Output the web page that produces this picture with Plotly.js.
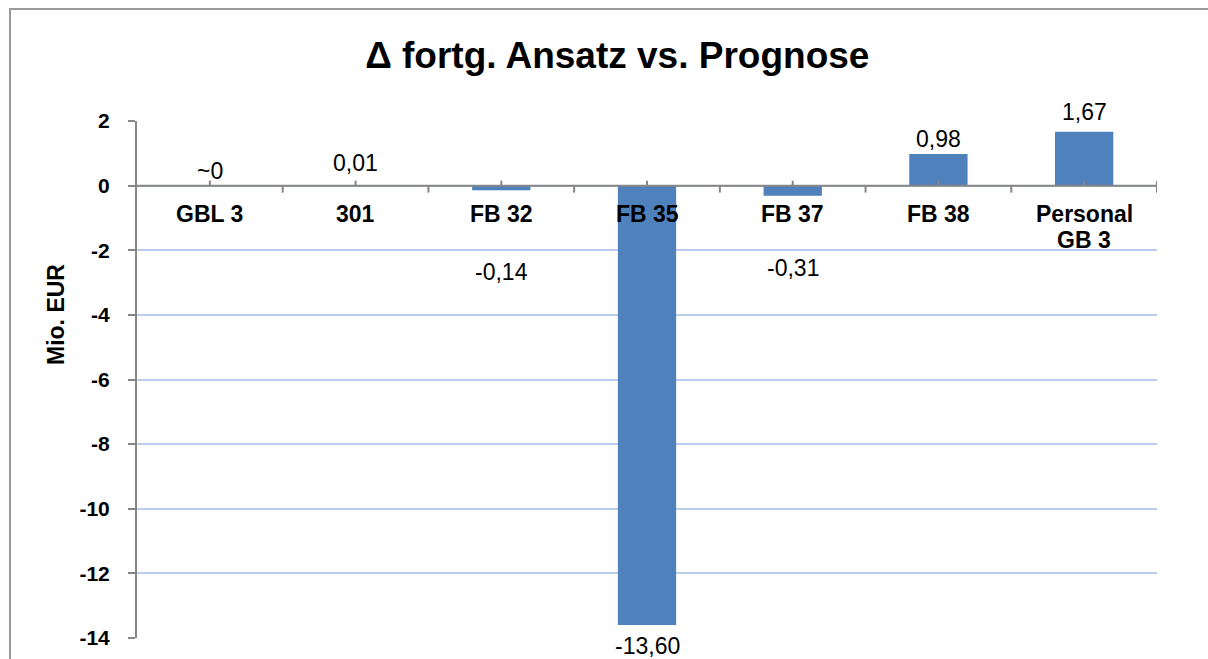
<!DOCTYPE html>
<html>
<head>
<meta charset="utf-8">
<script src="https://cdn.plot.ly/plotly-3.0.1.min.js"></script>
<style>
  html, body { margin: 0; padding: 0; background: #ffffff; }
  #chart { width: 1208px; height: 659px; }
</style>
</head>
<body>
<div id="chart"></div>
<script>
// ---- data ----
const categories = ['GBL 3', '301', 'FB 32', 'FB 35', 'FB 37', 'FB 38', 'Personal<br>GB 3'];
const values = [0, 0.01, -0.14, -13.60, -0.31, 0.98, 1.67];
const valueLabels = ['~0', '0,01', '-0,14', '-13,60', '-0,31', '0,98', '1,67'];
const yTickValues = [2, 0, -2, -4, -6, -8, -10, -12, -14];
const yTickLabels = ['2', '0', '-2', '-4', '-6', '-8', '-10', '-12', '-14'];
const yAxisTitle = 'Mio. EUR';
const chartTitle = '\u0394 fortg. Ansatz vs. Prognose';

// ---- styling ----
const FONT = 'Liberation Sans, Arial, sans-serif';
const barColor = '#4f81bd';
const axisGray = '#868686';
const gridBlue = '#b9cdef';
// vertical offsets (px) of the value labels relative to the bar ends
const labelOffsetPx = [15, 22, -82, -21, -72, 15, 20];

const idx = categories.map((_, i) => i);

const trace = {
  type: 'bar',
  x: idx,
  y: values,
  width: 0.4,
  marker: { color: barColor, line: { width: 0 } },
  hoverinfo: 'skip'
};

const annotations = [];
categories.forEach((c, i) => {
  c.split('<br>').forEach((line, k) => {
    annotations.push({
      x: i, y: 0, xref: 'x', yref: 'y',
      text: '<b>' + line + '</b>',
      showarrow: false,
      xanchor: 'center', yanchor: 'top',
      yshift: -13 - 26 * k,
      font: { family: FONT, size: 23, color: '#000' }
    });
  });
  annotations.push({
    x: i, y: values[i], xref: 'x', yref: 'y',
    text: valueLabels[i],
    showarrow: false,
    xanchor: 'center', yanchor: 'middle',
    yshift: labelOffsetPx[i],
    font: { family: FONT, size: 23, color: '#000' }
  });
});
// y-axis title (placed like in the reference, above the vertical centre)
annotations.push({
  xref: 'paper', yref: 'paper',
  x: -0.0794, y: 0.6248,
  xanchor: 'center', yanchor: 'middle',
  textangle: -90,
  text: '<b>' + yAxisTitle + '</b>',
  showarrow: false,
  font: { family: FONT, size: 23, color: '#000' }
});

const shapes = [];
// zero axis line
shapes.push({
  type: 'line', xref: 'x', yref: 'y',
  x0: -0.5, x1: categories.length - 0.5, y0: 0, y1: 0,
  line: { color: axisGray, width: 2 }, layer: 'above'
});
// boundary ticks (down) and centre ticks (up)
for (let i = 0; i < categories.length; i++) {
  const b = i + 0.5;
  const last = i === categories.length - 1;
  shapes.push({
    type: 'line', xref: 'x', yref: 'y',
    ysizemode: 'pixel', yanchor: 0,
    x0: b, x1: b, y0: last ? 5 : 0, y1: -7,
    line: { color: axisGray, width: 2 }, layer: 'above'
  });
  shapes.push({
    type: 'line', xref: 'x', yref: 'y',
    ysizemode: 'pixel', yanchor: 0,
    x0: i, x1: i, y0: 0, y1: 5,
    line: { color: axisGray, width: 2 }, layer: 'above'
  });
}
// outer chart frame
shapes.push({
  type: 'path', xref: 'paper', yref: 'paper',
  path: 'M -0.1245,-0.2 L -0.1245,1.2166 L 1.2,1.2166',
  line: { color: '#9a9a9a', width: 2 }
});

const layout = {
  width: 1208, height: 659,
  margin: { l: 137, r: 51, t: 121, b: 21 },
  paper_bgcolor: '#ffffff',
  plot_bgcolor: '#ffffff',
  showlegend: false,
  title: {
    text: '<b>' + chartTitle + '</b>',
    font: { family: FONT, size: 37, color: '#000' },
    x: 0.511, xanchor: 'center',
    y: 0.917, yanchor: 'middle'
  },
  xaxis: {
    type: 'linear',
    range: [-0.5, categories.length - 0.5],
    showticklabels: false,
    showgrid: false,
    zeroline: false,
    showline: false,
    ticks: '',
    fixedrange: true
  },
  yaxis: {
    range: [-14, 2],
    tickvals: yTickValues,
    ticktext: yTickLabels,
    showgrid: true,
    gridcolor: gridBlue,
    gridwidth: 2,
    zeroline: false,
    showline: true,
    linecolor: axisGray,
    linewidth: 2,
    ticks: 'outside',
    ticklen: 7,
    tickwidth: 2,
    tickcolor: axisGray,
    ticklabelstandoff: 14,
    tickfont: { family: FONT, size: 21, color: '#000', weight: 'bold' },
    automargin: false,
    fixedrange: true
  },
  annotations: annotations,
  shapes: shapes,
  bargap: 0.6
};

Plotly.newPlot('chart', [trace], layout, { displayModeBar: false, staticPlot: true });
</script>
</body>
</html>
